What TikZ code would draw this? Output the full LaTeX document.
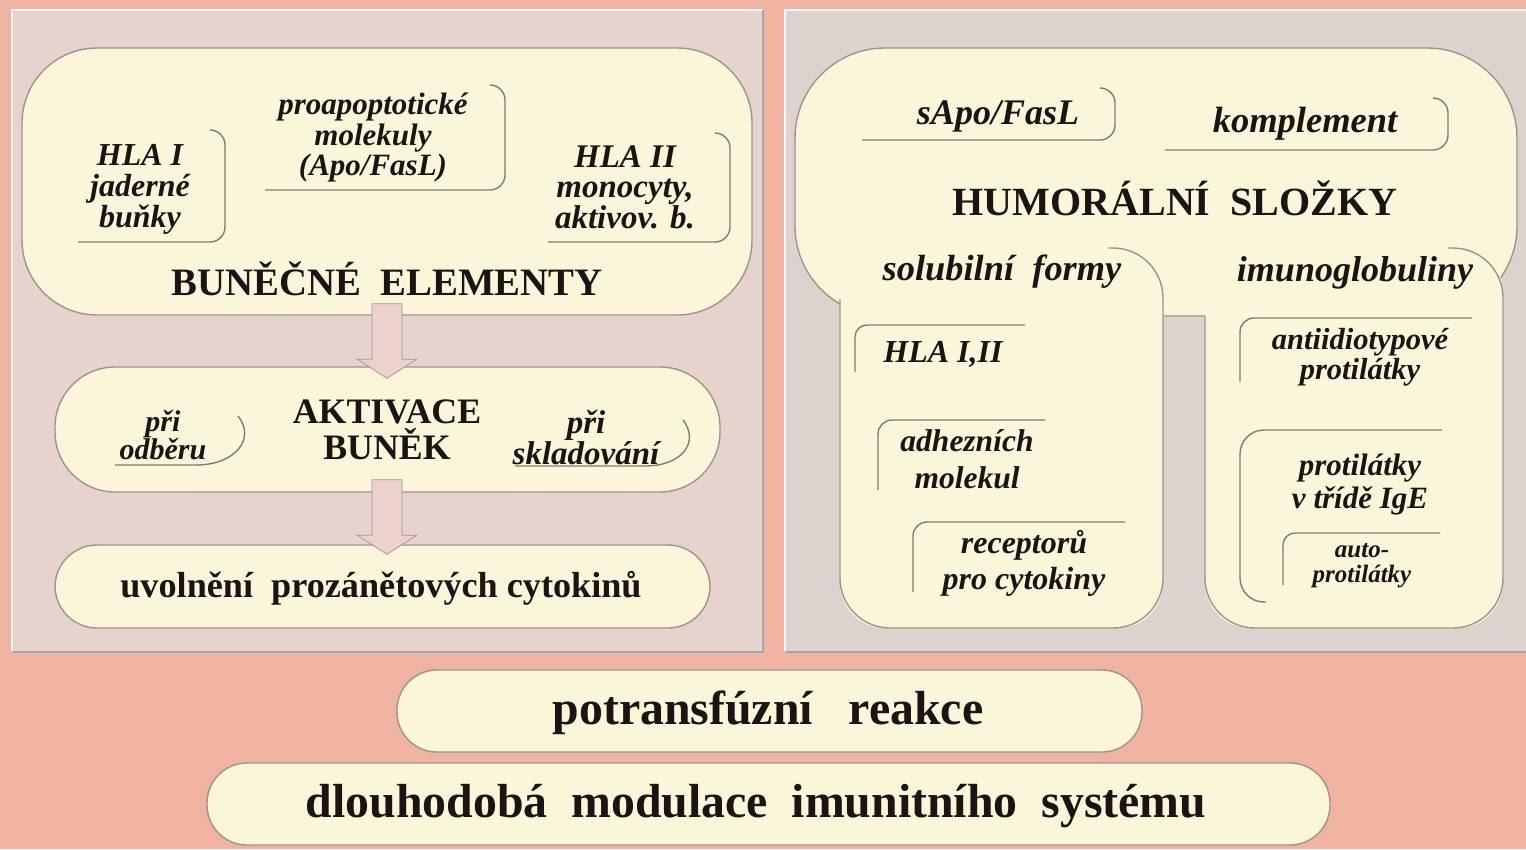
\documentclass[tikz,border=0pt]{standalone}
\usepackage{fontspec}
\setmainfont{Liberation Serif}
\usetikzlibrary{calc}
\definecolor{bgc}{HTML}{F0B3A2}
\definecolor{panelLc}{HTML}{E7D3CD}
\definecolor{panelRc}{HTML}{DDD2CE}
\definecolor{creamc}{HTML}{FBF5D9}
\definecolor{edgec}{HTML}{A0948A}
\definecolor{linec}{HTML}{857A70}
\definecolor{textc}{HTML}{1C1414}
\definecolor{arrowc}{HTML}{EBD2CC}
\definecolor{arrowline}{HTML}{A89890}
\newcommand\fsz[2]{\fontsize{#1}{#2}\selectfont}
\newcommand\blockarr[2]{%
  \draw[blockarrow] ($(#1)+(-15,0)$) -- ($(#1)+(15,0)$) -- ($(#2)+(15,-19)$) -- ($(#2)+(29.5,-19)$) -- (#2) -- ($(#2)+(-29.5,-19)$) -- ($(#2)+(-15,-19)$) -- cycle;}
\begin{document}
\begin{tikzpicture}[x=1pt,y=-1pt,
  cream/.style={fill=creamc, draw=edgec, line width=1.4pt, inner sep=0pt},
  creamfill/.style={fill=creamc, inner sep=0pt},
  lbl/.style={inner sep=0pt, align=center, text=textc},
  edgeln/.style={draw=linec, line width=1.4pt},
  coledge/.style={draw=edgec, line width=1.4pt},
  blockarrow/.style={fill=arrowc, draw=arrowline, line width=0.8pt}]
\useasboundingbox (0,0) rectangle (1526,849);
\fill[bgc] (0,0) rectangle (1526,849);
% panels
\fill[panelLc] (12,10) rectangle (763,652);
\draw[white!85!panelLc, line width=1.5pt] (12,652) -- (12,10) -- (763,10);
\draw[gray!70, line width=1.5pt] (763,10) -- (763,652) -- (12,652);
\fill[panelRc] (785,10) rectangle (1526,652);
\draw[white!85!panelRc, line width=1.5pt] (785,652) -- (785,10) -- (1526,10);
\draw[gray!70, line width=1.5pt] (785,652) -- (1526,652);

% ---------------- left panel ----------------
\node[cream, rounded corners=75, minimum width=730, minimum height=267] (bigL) at (387,181.5) {};
\draw[edgeln, rounded corners=15] (210,130) -- (225,130) -- (225,242) -- (78,242);
\draw[edgeln, rounded corners=15] (490,85) -- (505,85) -- (505,190) -- (265,190);
\draw[edgeln, rounded corners=15] (715,133) -- (730,133) -- (730,242) -- (548,242);
\node[lbl, font=\fsz{32}{31}\bfseries\itshape] (hla1) at (140,189) {HLA I\\jaderné\\buňky};
\node[lbl, font=\fsz{31}{30.5}\bfseries\itshape] (proap) at (373,138) {proapoptotické\\molekuly\\(Apo/FasL)};
\node[lbl, font=\fsz{33}{30}\bfseries\itshape] (hla2) at (625,187) {HLA II\\monocyty,\\aktivov. b.};
\node[lbl, font=\fsz{38.8}{40}\bfseries] (tbun) at (387,279) {BUNĚČNÉ\ \ ELEMENTY};

\node[cream, rounded corners=60, minimum width=665, minimum height=125] (aktiv) at (387.5,429.5) {};
\draw[edgeln] (238,416) .. controls (256,438) and (236,465) .. (196,465) -- (115,465);
\draw[edgeln] (683,420) .. controls (700,442) and (682,466) .. (645,466) -- (515,466);
\node[lbl, font=\fsz{30}{27}\bfseries\itshape] (odber) at (163,435) {při\\odběru};
\node[lbl, font=\fsz{33}{27}\bfseries\itshape] (sklad) at (586,438) {při\\skladování};
\node[lbl, font=\fsz{35.8}{36}\bfseries] (takt) at (387,430) {AKTIVACE\\BUNĚK};

\node[cream, rounded corners=42, minimum width=655, minimum height=83] (uvol) at (382.5,586.5) {};
\node[lbl, font=\fsz{36.2}{38}\bfseries] (tuvol) at (381,588) {uvolnění\ \ prozánětových cytokinů};

\coordinate (a1s) at ([yshift=12pt]bigL.south);
\path (a1s |- aktiv.north) ++(0,12) coordinate (a1e);
\path (a1s |- aktiv.south) ++(0,-13) coordinate (a2s);
\path (a1s |- uvol.north) ++(0,10) coordinate (a2e);
\blockarr{a1s}{a1e}
\blockarr{a2s}{a2e}

% ---------------- right panel ----------------
\node[cream, rounded corners=90, minimum width=722, minimum height=268] (bigR) at (1156,182) {};
\node[creamfill, rounded corners=45, minimum width=323, minimum height=380] (colS) at (1001.5,438) {};
\node[creamfill, rounded corners=45, minimum width=298, minimum height=380] (colI) at (1354,438) {};
\draw[coledge, rounded corners=50] (1108,248) -- (1163,248) -- (1163,628) -- (840,628) -- (840,299);
\draw[coledge, rounded corners=50] (1448,248) -- (1503,248) -- (1503,628) -- (1205,628) -- (1205,316);

\draw[edgeln, rounded corners=15] (1100,88) -- (1115,88) -- (1115,140) -- (862,140);
\draw[edgeln, rounded corners=15] (1433,98) -- (1448,98) -- (1448,150) -- (1165,150);
\node[lbl, font=\fsz{36}{36}\bfseries\itshape] (sapo) at (998,116) {sApo/FasL};
\node[lbl, font=\fsz{36.5}{36}\bfseries\itshape] (kompl) at (1305,124) {komplement};
\node[lbl, font=\fsz{40}{40}\bfseries] (thum) at (1175,198) {HUMORÁLNÍ\ \ SLOŽKY};
\node[lbl, font=\fsz{36.4}{36}\bfseries\itshape] (tsol) at (1002,272) {solubilní\ \ formy};
\node[lbl, font=\fsz{36}{36}\bfseries\itshape] (timu) at (1355,273) {imunoglobuliny};

\draw[edgeln, rounded corners=12] (855,372) -- (855,325) -- (1025,325);
\draw[edgeln, rounded corners=14] (878,490) -- (878,420) -- (1045,420);
\draw[edgeln, rounded corners=14] (913,592) -- (913,522) -- (1125,522);
\draw[edgeln, rounded corners=14] (1240,382) -- (1240,318) -- (1472,318);
\draw[edgeln, rounded corners=24] (1266,602) -- (1240,602) -- (1240,430) -- (1442,430);
\draw[edgeln, rounded corners=12] (1283,585) -- (1283,533) -- (1440,533);
\node[lbl, font=\fsz{32}{32}\bfseries\itshape] (thla) at (943,354) {HLA I,II};
\node[lbl, font=\fsz{31.5}{37}\bfseries\itshape] (tadh) at (967,459) {adhezních\\molekul};
\node[lbl, font=\fsz{32}{36}\bfseries\itshape] (trec) at (1024,563) {receptorů\\pro cytokiny};
\node[lbl, font=\fsz{30.5}{30}\bfseries\itshape] (tanti) at (1360,357) {antiidiotypové\\protilátky};
\node[lbl, font=\fsz{31}{33}\bfseries\itshape] (tige) at (1360,485) {protilátky\\v třídě IgE};
\node[lbl, font=\fsz{25}{25}\bfseries\itshape] (tauto) at (1362,566) {auto-\\protilátky};

% ---------------- bottom ----------------
\node[cream, rounded corners=40, minimum width=745, minimum height=82] (potr) at (769.5,711) {};
\node[lbl, font=\fsz{47.8}{48}\bfseries] (tpotr) at (768,713) {potransfúzní\ \ \ reakce};
\node[cream, rounded corners=40, minimum width=1123, minimum height=82] (dlouh) at (768.5,804) {};
\node[lbl, font=\fsz{47.8}{48}\bfseries] (tdl) at (756,806) {dlouhodobá\ \ modulace\ \ imunitního\ \ systému};
\end{tikzpicture}
\end{document}
